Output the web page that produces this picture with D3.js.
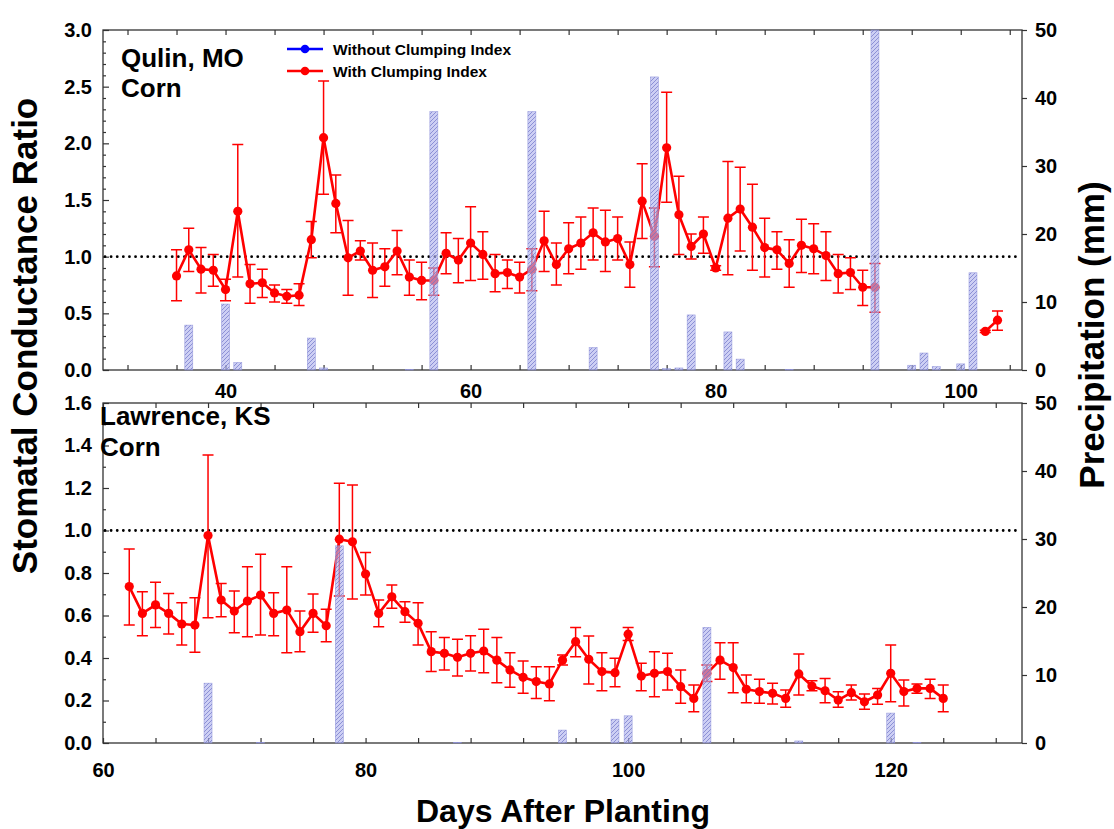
<!DOCTYPE html>
<html>
<head>
<meta charset="utf-8">
<script src="https://cdn.jsdelivr.net/npm/d3@7"></script>
<style>
  body { margin: 0; background: #fff; }
  svg text { font-family: "Liberation Sans", Arial, sans-serif; font-weight: bold; fill: #000; }
</style>
</head>
<body>
<svg id="chart" width="1114" height="829"></svg>
<script>
// Qulin, MO (days 94-101 missing)
const qulinDays = [36, 37, 38, 39, 40, 41, 42, 43, 44, 45, 46, 47, 48, 49, 50, 51, 52, 53, 54, 55,
  56, 57, 58, 59, 60, 61, 62, 63, 64, 65, 66, 67, 68, 69, 70, 71, 72, 73, 74, 75,
  76, 77, 78, 79, 80, 81, 82, 83, 84, 85, 86, 87, 88, 89, 90, 91, 92, 93, 102, 103];
const qulinRatio = [0.83, 1.06, 0.89, 0.88, 0.71, 1.40, 0.76, 0.77, 0.68, 0.65, 0.66, 1.15, 2.05, 1.47, 0.99, 1.05, 0.88, 0.91, 1.05, 0.82,
  0.79, 0.79, 1.03, 0.97, 1.12, 1.02, 0.85, 0.86, 0.82, 0.89, 1.14, 0.93, 1.07, 1.12, 1.21, 1.13, 1.16, 0.93, 1.49, 1.18,
  1.96, 1.37, 1.09, 1.20, 0.90, 1.34, 1.42, 1.26, 1.08, 1.06, 0.94, 1.10, 1.07, 1.01, 0.85, 0.86, 0.73, 0.73, 0.34, 0.44];
const qulinHigh = [1.06, 1.25, 1.08, 1.02, 0.80, 1.99, 0.93, 0.89, 0.75, 0.71, 0.76, 1.31, 2.55, 1.72, 1.32, 1.14, 1.12, 1.07, 1.23, 0.97,
  0.95, 0.90, 1.21, 1.16, 1.44, 1.22, 1.02, 0.97, 0.95, 1.07, 1.40, 1.12, 1.30, 1.35, 1.43, 1.41, 1.35, 1.13, 1.82, 1.43,
  2.45, 1.71, 1.20, 1.35, 0.92, 1.84, 1.79, 1.64, 1.34, 1.22, 1.15, 1.33, 1.29, 1.22, 1.02, 0.99, 0.88, 0.94, 0.35, 0.52];
const qulinLow = [0.61, 0.87, 0.68, 0.74, 0.61, 0.82, 0.59, 0.64, 0.60, 0.59, 0.57, 0.99, 1.55, 1.21, 0.66, 0.97, 0.64, 0.74, 0.84, 0.66,
  0.62, 0.66, 0.85, 0.77, 0.79, 0.80, 0.69, 0.72, 0.68, 0.70, 0.87, 0.75, 0.85, 0.89, 0.97, 0.87, 0.97, 0.73, 1.16, 0.91,
  1.48, 1.02, 0.98, 1.03, 0.88, 0.84, 1.05, 0.88, 0.82, 0.89, 0.73, 0.86, 0.85, 0.79, 0.68, 0.71, 0.57, 0.51, 0.33, 0.35];
const qulinRainDays = [37, 40, 41, 47, 48, 55, 57, 65, 70, 75, 76, 77, 78, 81, 82, 86, 93, 96, 97, 98, 100, 101];
const qulinRain = [6.6, 9.7, 1.1, 4.7, 0.3, 0.1, 38, 38, 3.3, 43.1, 0.2, 0.3, 8.1, 5.6, 1.6, 0.1, 50, 0.7, 2.5, 0.5, 0.9, 14.3];

// Lawrence, KS
const lawrenceDays = [62, 63, 64, 65, 66, 67, 68, 69, 70, 71, 72, 73, 74, 75, 76, 77, 78, 79, 80, 81,
  82, 83, 84, 85, 86, 87, 88, 89, 90, 91, 92, 93, 94, 95, 96, 97, 98, 99, 100, 101,
  102, 103, 104, 105, 106, 107, 108, 109, 110, 111, 112, 113, 114, 115, 116, 117, 118, 119, 120, 121,
  122, 123, 124];
const lawrenceRatio = [0.736, 0.61, 0.65, 0.61, 0.56, 0.555, 0.976, 0.673, 0.621, 0.668, 0.696, 0.61, 0.626, 0.524, 0.61, 0.552, 0.959, 0.947, 0.795, 0.61,
  0.688, 0.618, 0.563, 0.43, 0.422, 0.403, 0.422, 0.433, 0.39, 0.344, 0.309, 0.289, 0.278, 0.39, 0.477, 0.394, 0.336, 0.331, 0.512, 0.315,
  0.328, 0.336, 0.265, 0.21, 0.328, 0.39, 0.355, 0.253, 0.242, 0.234, 0.21, 0.325, 0.268, 0.246, 0.202, 0.237, 0.194, 0.226, 0.328, 0.242,
  0.257, 0.257, 0.21];
const lawrenceHigh = [0.913, 0.712, 0.756, 0.704, 0.66, 0.684, 1.355, 0.751, 0.715, 0.83, 0.888, 0.707, 0.83, 0.621, 0.701, 0.629, 1.222, 1.214, 0.896, 0.673,
  0.744, 0.665, 0.66, 0.524, 0.497, 0.488, 0.505, 0.535, 0.497, 0.425, 0.386, 0.359, 0.359, 0.414, 0.544, 0.504, 0.425, 0.399, 0.544, 0.375,
  0.43, 0.422, 0.344, 0.273, 0.367, 0.472, 0.472, 0.32, 0.30, 0.281, 0.249, 0.419, 0.293, 0.304, 0.241, 0.273, 0.231, 0.257, 0.461, 0.296,
  0.278, 0.30, 0.273];
const lawrenceLow = [0.555, 0.505, 0.544, 0.513, 0.461, 0.427, 0.59, 0.594, 0.519, 0.50, 0.508, 0.505, 0.425, 0.43, 0.521, 0.477, 0.692, 0.678, 0.696, 0.547,
  0.634, 0.568, 0.461, 0.336, 0.344, 0.315, 0.339, 0.331, 0.284, 0.262, 0.234, 0.21, 0.199, 0.367, 0.406, 0.278, 0.246, 0.265, 0.482, 0.246,
  0.218, 0.249, 0.187, 0.147, 0.289, 0.30, 0.237, 0.19, 0.187, 0.184, 0.168, 0.226, 0.246, 0.19, 0.168, 0.202, 0.159, 0.182, 0.194, 0.174,
  0.234, 0.21, 0.147];
const lawrenceRainDays = [68, 72, 78, 87, 95, 99, 100, 106, 113, 120, 122];
const lawrenceRain = [8.8, 0.1, 29, 0.1, 1.9, 3.5, 4.0, 17.0, 0.3, 4.4, 0.1];

const rainTicks = [0, 10, 20, 30, 40, 50];
const legendLabels = ['Without Clumping Index', 'With Clumping Index'];
const legendColors = ['#0000ff', '#ff0000'];

const svg = d3.select('#chart');
const left = 103, right = 1022;
const red = '#ff0000';
const axisColor = '#333';

// hatch pattern for precipitation bars
const defs = svg.append('defs');
const pat = defs.append('pattern')
  .attr('id', 'hatch')
  .attr('patternUnits', 'userSpaceOnUse')
  .attr('width', 4).attr('height', 4);
pat.append('rect').attr('width', 4).attr('height', 4).attr('fill', '#b3b6ee').attr('fill-opacity', 0.65);
pat.append('path')
  .attr('d', 'M-1,1 l2,-2 M0,4 l4,-4 M3,5 l2,-2')
  .attr('stroke', '#6d72c6').attr('stroke-width', 0.9).attr('stroke-opacity', 0.75);

const panels = [
  {
    label: ['Qulin, MO', 'Corn'], labelX: 121, labelY: [67, 97],
    days: qulinDays, ratio: qulinRatio, high: qulinHigh, low: qulinLow,
    rainDays: qulinRainDays, rain: qulinRain,
    xDomain: [30, 105], xTicks: d3.range(32, 105, 4), yMax: 3.0, yCount: 30, yMajor: 5,
    top: 30, bottom: 370, xPad: 14, legend: true
  },
  {
    label: ['Lawrence, KS', 'Corn'], labelX: 100, labelY: [425, 456],
    days: lawrenceDays, ratio: lawrenceRatio, high: lawrenceHigh, low: lawrenceLow,
    rainDays: lawrenceRainDays, rain: lawrenceRain,
    xDomain: [60, 130], xTicks: d3.range(60, 131, 4), yMax: 1.6, yCount: 16, yMajor: 2,
    top: 403, bottom: 743, xPad: 20, legend: false
  }
];

panels.forEach(drawPanel);

function styleAxis(g) {
  g.select('.domain').remove();
  g.selectAll('.tick line').attr('stroke', axisColor).attr('stroke-width', 1.2);
  g.attr('font-size', 20).attr('font-family', null);
}

function drawPanel(p) {
  const x = d3.scaleLinear().domain(p.xDomain).range([left, right]);
  const y = d3.scaleLinear().domain([0, p.yMax]).range([p.bottom, p.top]);
  const yR = d3.scaleLinear().domain([0, 50]).range([p.bottom, p.top]);
  const g = svg.append('g');

  const pts = p.days.map((d, i) => ({ d: d, v: p.ratio[i], hi: p.high[i], lo: p.low[i] }));

  // axes
  g.append('g')
    .attr('transform', `translate(0,${p.bottom})`)
    .call(d3.axisBottom(x).tickValues(p.xTicks).tickSizeInner(-5).tickSizeOuter(0)
      .tickPadding(p.xPad).tickFormat(d => d % 20 === 0 ? d : ''))
    .call(styleAxis);

  g.append('g')
    .attr('transform', `translate(0,${p.top})`)
    .call(d3.axisTop(x).tickValues(p.xTicks).tickSizeInner(-5).tickSizeOuter(0).tickFormat(''))
    .call(styleAxis);

  const yVals = d3.range(0, p.yCount + 1).map(i => i / 10);
  const fmt = d3.format('.1f');
  const isMajor = v => Math.round(v * 10) % p.yMajor === 0;
  const la = g.append('g')
    .attr('transform', `translate(${left},0)`)
    .call(d3.axisLeft(y).tickValues(yVals).tickSizeInner(-6).tickSizeOuter(0)
      .tickPadding(11).tickFormat(v => isMajor(v) ? fmt(v) : ''))
    .call(styleAxis);
  la.selectAll('.tick').filter(v => !isMajor(v)).select('line').attr('x2', 3);

  g.append('g')
    .attr('transform', `translate(${right},0)`)
    .call(d3.axisRight(yR).tickValues(rainTicks).tickSizeInner(5).tickSizeOuter(0).tickPadding(8))
    .call(styleAxis);

  // frame
  g.append('rect')
    .attr('x', left).attr('y', p.top)
    .attr('width', right - left).attr('height', p.bottom - p.top)
    .attr('fill', 'none').attr('stroke', axisColor).attr('stroke-width', 1.3);

  // reference line at ratio 1.0
  g.append('line')
    .attr('x1', left + 2).attr('x2', right - 2)
    .attr('y1', y(1)).attr('y2', y(1))
    .attr('stroke', '#000').attr('stroke-width', 2.8)
    .attr('stroke-linecap', 'round').attr('stroke-dasharray', '0.01 6.1');

  const valid = pts.filter(d => d.v !== null);

  // error bars
  const eb = g.append('g').attr('stroke', red).attr('stroke-width', 1.5).attr('fill', 'none');
  eb.selectAll('path').data(valid).join('path')
    .attr('d', d => {
      const cx = x(d.d), t = y(d.hi), b = y(d.lo);
      return `M${cx - 5.5},${t}H${cx + 5.5}M${cx},${t}V${b}M${cx - 5.5},${b}H${cx + 5.5}`;
    });

  // line with a gap where days are missing
  const segments = [];
  valid.forEach((d, i) => {
    if (i === 0 || d.d - valid[i - 1].d > 1) segments.push([]);
    segments[segments.length - 1].push(d);
  });
  const line = d3.line().x(d => x(d.d)).y(d => y(d.v));
  g.append('g').selectAll('path').data(segments).join('path')
    .attr('d', line).attr('fill', 'none').attr('stroke', red)
    .attr('stroke-width', 2.6).attr('stroke-linejoin', 'round');

  g.append('g').selectAll('circle').data(valid).join('circle')
    .attr('cx', d => x(d.d)).attr('cy', d => y(d.v)).attr('r', 4.6).attr('fill', red);

  // precipitation bars (drawn over the ratio series)
  const rainData = p.rainDays.map((d, i) => ({ d: d, v: p.rain[i] }));
  g.append('g').selectAll('rect').data(rainData).join('rect')
    .attr('x', d => x(d.d) - 4).attr('width', 8)
    .attr('y', d => yR(d.v)).attr('height', d => p.bottom - yR(d.v))
    .attr('fill', 'url(#hatch)')
    .attr('stroke', '#8c90da').attr('stroke-width', 0.6).attr('stroke-opacity', 0.8);

  // site label
  g.append('g').selectAll('text').data(p.label).join('text')
    .attr('x', p.labelX).attr('y', (d, i) => p.labelY[i])
    .attr('font-size', 26).text(d => d);

  if (p.legend) {
    const lg = g.append('g');
    legendLabels.forEach((lab, i) => {
      const ly = 49 + i * 22;
      lg.append('line').attr('x1', 287).attr('x2', 323).attr('y1', ly).attr('y2', ly)
        .attr('stroke', legendColors[i]).attr('stroke-width', 2.6);
      lg.append('circle').attr('cx', 305).attr('cy', ly).attr('r', 4.3).attr('fill', legendColors[i]);
      lg.append('text').attr('x', 333).attr('y', ly + 5.5).attr('font-size', 15.5).text(lab);
    });
  }
}

// axis titles
svg.append('text')
  .attr('transform', 'translate(37,336) rotate(-90)')
  .attr('text-anchor', 'middle').attr('font-size', 35)
  .text('Stomatal Conductance Ratio');

svg.append('text')
  .attr('transform', 'translate(1104,335) rotate(-90)')
  .attr('text-anchor', 'middle').attr('font-size', 35)
  .text('Precipitation (mm)');

svg.append('text')
  .attr('x', 563).attr('y', 822)
  .attr('text-anchor', 'middle').attr('font-size', 32)
  .text('Days After Planting');
</script>
</body>
</html>
